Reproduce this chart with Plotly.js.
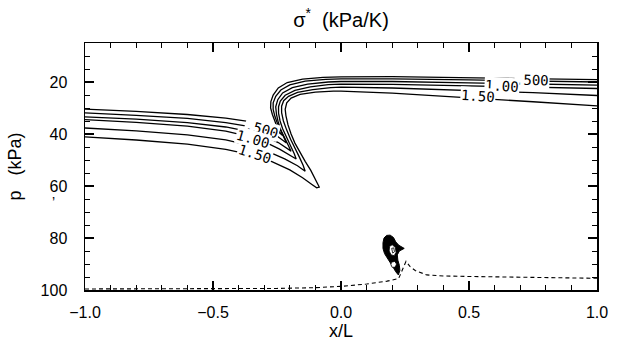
<!DOCTYPE html>
<html>
<head>
<meta charset="utf-8">
<script src="https://cdn.plot.ly/plotly-3.0.1.min.js"></script>
<style>html,body{margin:0;padding:0;background:#fff;}#chart{width:621px;height:349px;}</style>
</head>
<body>
<div id="chart"></div>
<script>
// ---- contour lines of sigma* (levels 0.25 ... 1.50 kPa/K), x/L vs p (kPa) ----
const line1X = [-1, -0.8, -0.6, -0.45, -0.35, -0.29, -0.255, -0.235, -0.228, -0.238, -0.25, -0.26, -0.268, -0.275, -0.274, -0.265, -0.245, -0.21, -0.15, -0.07, 0.0, 0.2, 0.5, 0.75, 1.0];
const line1P = [30.4, 31.3, 32.5, 33.9, 35.3, 36.8, 38.3, 39.8, 40.6, 39.5, 37.2, 34.8, 32.5, 30.0, 27.5, 25.0, 22.3, 20.2, 18.9, 18.2, 18.0, 17.9, 18.3, 18.7, 19.1];

const line2X = [-1, -0.8, -0.6, -0.45, -0.35, -0.29, -0.25, -0.225, -0.213, -0.222, -0.235, -0.248, -0.258, -0.265, -0.265, -0.255, -0.235, -0.2, -0.14, -0.06, 0.0, 0.2, 0.5, 0.75, 1.0];
const line2P = [31.9, 32.8, 34.0, 35.6, 37.3, 39.0, 40.8, 42.5, 43.5, 41.5, 38.8, 36.0, 33.3, 30.5, 28.0, 25.5, 23.1, 21.1, 19.7, 19.0, 18.8, 18.8, 19.2, 19.6, 20.0];

const line3X = [-1, -0.8, -0.6, -0.45, -0.35, -0.29, -0.245, -0.215, -0.195, -0.205, -0.22, -0.235, -0.245, -0.252, -0.255, -0.247, -0.228, -0.19, -0.13, -0.05, 0.0, 0.2, 0.5, 0.75, 1.0];
const line3P = [33.4, 34.3, 35.6, 37.3, 39.3, 41.2, 43.3, 45.2, 46.6, 44.5, 41.5, 38.5, 35.5, 32.5, 29.5, 26.8, 24.2, 22.2, 20.8, 20.0, 19.8, 19.8, 20.3, 20.7, 21.2];

const line4X = [-1, -0.8, -0.6, -0.45, -0.35, -0.29, -0.24, -0.2, -0.175, -0.183, -0.198, -0.213, -0.228, -0.238, -0.244, -0.244, -0.237, -0.218, -0.18, -0.12, -0.05, 0.0, 0.2, 0.5, 0.75, 1.0];
const line4P = [34.5, 35.5, 37.0, 38.9, 41.2, 43.4, 45.8, 48.0, 49.6, 47.5, 44.5, 41.3, 38.0, 35.0, 32.0, 29.5, 27.3, 25.1, 23.2, 21.9, 21.0, 20.8, 20.9, 21.5, 22.0, 22.5];

const line5X = [-1, -0.8, -0.6, -0.45, -0.35, -0.28, -0.22, -0.17, -0.14, -0.148, -0.163, -0.18, -0.197, -0.212, -0.225, -0.232, -0.232, -0.224, -0.205, -0.17, -0.11, -0.04, 0.0, 0.2, 0.5, 0.75, 1.0];
const line5P = [37.7, 38.8, 40.3, 42.3, 44.6, 47.0, 49.6, 52.2, 54.3, 52.0, 48.8, 45.5, 42.0, 38.5, 35.0, 31.8, 29.3, 27.2, 25.5, 24.0, 22.9, 22.2, 22.0, 22.3, 23.2, 24.1, 25.2];

const line6X = [-1, -0.8, -0.6, -0.45, -0.35, -0.27, -0.2, -0.15, -0.115, -0.095, -0.085, -0.1, -0.118, -0.14, -0.16, -0.18, -0.195, -0.207, -0.215, -0.218, -0.212, -0.195, -0.16, -0.1, -0.03, 0.0, 0.2, 0.5, 0.75, 1.0];
const line6P = [41.1, 42.3, 43.9, 45.9, 48.0, 50.6, 53.8, 56.8, 59.3, 60.7, 60.4, 57.5, 54.0, 50.5, 47.0, 43.5, 40.0, 36.5, 33.0, 30.5, 28.0, 26.2, 24.8, 23.9, 23.5, 23.5, 24.3, 26.0, 27.6, 29.2];

// small closed contours near x/L = 0.2, p = 80-94 kPa
const blobX = [0.168, 0.178, 0.192, 0.205, 0.214, 0.226, 0.247, 0.228, 0.22, 0.222, 0.228, 0.23, 0.224, 0.214, 0.202, 0.19, 0.18, 0.17, 0.164, 0.164, 0.168];
const blobP = [80.0, 79.0, 78.9, 79.8, 81.5, 82.8, 84.0, 85.0, 86.5, 88.5, 90.5, 92.5, 94.2, 93.0, 91.0, 89.0, 87.5, 86.0, 84.0, 81.8, 80.0];
const hole1X = [0.19, 0.2, 0.212, 0.215, 0.208, 0.196, 0.188, 0.19];
const hole1P = [83.2, 82.6, 83.6, 85.5, 86.8, 86.5, 85.0, 83.2];
const hole2X = [0.197, 0.21, 0.217, 0.212, 0.2, 0.195, 0.197];
const hole2P = [89.3, 89.0, 90.0, 91.2, 91.3, 90.3, 89.3];
const coreX = [0.198, 0.206, 0.209, 0.202, 0.198];
const coreP = [84.0, 83.8, 85.3, 85.8, 84.0];

// dashed line (surface / boundary)
const dashX = [-1.0, -0.8, -0.6, -0.4, -0.25, -0.1, 0.0, 0.1, 0.18, 0.225, 0.24, 0.254, 0.27, 0.29, 0.335, 0.4, 0.5, 0.7, 1.0];
const dashP = [99.6, 99.6, 99.6, 99.55, 99.4, 99.1, 98.6, 97.7, 96.6, 95.6, 92.0, 89.0, 91.0, 92.5, 94.2, 94.6, 94.8, 95.0, 95.5];

// contour labels
const labelText = ['.500', '1.00', '1.50', '.500', '1.00', '1.50'];
const labelX = [-0.31, -0.345, -0.335, 0.745, 0.63, 0.535];
const labelP = [38.0, 42.0, 47.5, 19.2, 21.5, 25.2];
const labelAngle = [16, 16, 18, 2, 3, 4];

// axis ticks
const xTicks = [-1.0, -0.5, 0.0, 0.5, 1.0];
const yTicks = [20, 40, 60, 80, 100];

const lineSets = [[line1X, line1P], [line2X, line2P], [line3X, line3P], [line4X, line4P], [line5X, line5P], [line6X, line6P]];
const traces = lineSets.map(s => ({
  x: s[0], y: s[1], type: 'scatter', mode: 'lines',
  line: {color: 'black', width: 1.3}, hoverinfo: 'skip'
}));
traces.push({x: blobX, y: blobP, type: 'scatter', mode: 'lines', fill: 'toself', fillcolor: 'black', line: {color: 'black', width: 1}});
traces.push({x: hole1X, y: hole1P, type: 'scatter', mode: 'lines', fill: 'toself', fillcolor: 'white', line: {color: 'black', width: 0.8}});
traces.push({x: hole2X, y: hole2P, type: 'scatter', mode: 'lines', fill: 'toself', fillcolor: 'white', line: {color: 'black', width: 0.8}});
traces.push({x: coreX, y: coreP, type: 'scatter', mode: 'lines', line: {color: 'black', width: 0.8}});
traces.push({x: dashX, y: dashP, type: 'scatter', mode: 'lines', line: {color: 'black', width: 1.1, dash: '4px,3px'}});

const annotations = labelText.map((t, i) => ({
  x: labelX[i], y: labelP[i], xref: 'x', yref: 'y', text: t, showarrow: false,
  textangle: labelAngle[i], bgcolor: 'white', borderpad: 0,
  font: {family: 'DejaVu Sans Mono, Liberation Mono, monospace', size: 14, color: 'black'}
}));
annotations.push({x: -0.068, y: 0.357, xref: 'paper', yref: 'paper', text: '\u2019', showarrow: false,
  font: {family: 'Liberation Sans, Arial, sans-serif', size: 14, color: 'black'}});

const tickFont = {family: 'Liberation Sans, Arial, Helvetica, sans-serif', size: 16, color: 'black'};
const titleFont = {family: 'Liberation Sans, Arial, sans-serif', size: 18, color: 'black'};
const layout = {
  width: 621, height: 349,
  margin: {l: 85, r: 24, t: 43, b: 59},
  paper_bgcolor: 'white', plot_bgcolor: 'white',
  showlegend: false,
  title: {text: 'σ<sup>*</sup>  (kPa/K)', x: 0.5, xref: 'paper', xanchor: 'center', y: 0.943, yref: 'container', yanchor: 'middle',
          font: {family: 'Liberation Sans, Arial, sans-serif', size: 20, color: 'black'}},
  xaxis: {
    range: [-1, 1], tickvals: xTicks, ticktext: xTicks.map(v => (v < 0 ? '\u2212' : '') + Math.abs(v).toFixed(1)),
    ticks: 'inside', ticklen: 9, tickwidth: 1.2, tickcolor: 'black',
    showline: true, linewidth: 1.5, linecolor: 'black', mirror: 'ticks',
    minor: {dtick: 0.1, tick0: 0, ticks: 'inside', ticklen: 5, tickwidth: 1, tickcolor: 'black'},
    showgrid: false, zeroline: false, tickfont: tickFont, ticklabelstandoff: 7,
    title: {text: 'x/L', font: titleFont, standoff: 4}
  },
  yaxis: {
    range: [100, 5], tickvals: yTicks, ticktext: yTicks.map(String),
    ticks: 'inside', ticklen: 9, tickwidth: 1.2, tickcolor: 'black',
    showline: true, linewidth: 1.5, linecolor: 'black', mirror: 'ticks',
    minor: {dtick: 5, tick0: 0, ticks: 'inside', ticklen: 5, tickwidth: 1, tickcolor: 'black'},
    showgrid: false, zeroline: false, tickfont: tickFont, ticklabelstandoff: 13,
    title: {text: 'p&nbsp;&nbsp;&nbsp;(kPa)', font: titleFont, standoff: 14}
  },
  annotations: annotations
};
Plotly.newPlot('chart', traces, layout, {staticPlot: true, displayModeBar: false});
</script>
</body>
</html>
